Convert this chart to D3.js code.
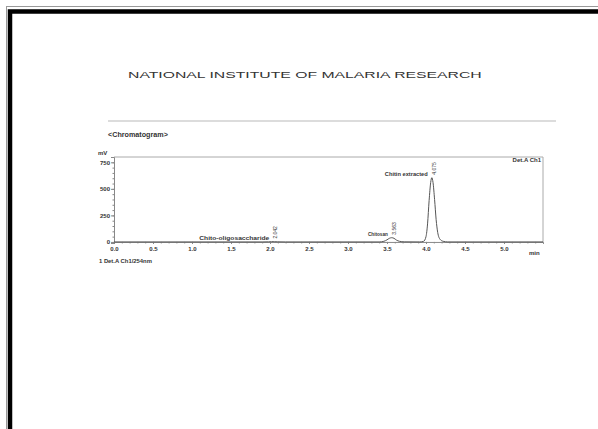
<!DOCTYPE html>
<html>
<head>
<meta charset="utf-8">
<script src="https://d3js.org/d3.v7.min.js"></script>
<style>
  body { margin: 0; background: #fff; }
  text { font-family: "Liberation Sans", Arial, sans-serif; fill: #333; }
</style>
</head>
<body>
<svg width="598" height="429"></svg>
<script>
// chromatogram trace (time in min, signal in mV)
const traceTime = [0, 1.90, 1.98, 2.02, 2.04, 2.06, 2.10, 2.20, 3.40, 3.46, 3.50, 3.53, 3.56, 3.59, 3.62, 3.66, 3.72, 3.92, 3.97, 4.00, 4.02, 4.04, 4.06, 4.075, 4.09, 4.11, 4.13, 4.15, 4.18, 4.22, 4.28, 5.5];
const traceMv   = [0, 0, 1, 2, 3, 2, 1, 0, 0, 6, 20, 34, 40, 34, 18, 6, 1, 0, 6, 50, 170, 390, 560, 605, 560, 400, 210, 90, 25, 6, 0, 0];

const peakNames = ["Chito-oligosaccharide", "Chitosan", "Chitin extracted"];
const peakTimes = [2.042, 3.563, 4.075];
const peakTops  = [3, 40, 605];

const xTicks = [0.0, 0.5, 1.0, 1.5, 2.0, 2.5, 3.0, 3.5, 4.0, 4.5, 5.0];
const yTicks = [0, 250, 500, 750];

const svg = d3.select("svg");

// squeeze / stretch a text to its printed width by scaling it horizontally
function fitText(g, x0, y0, w, str, size, bold, anchorEnd) {
  const t = g.append("text").style("font-size", size + "px")
    .style("font-weight", bold ? "bold" : "normal").text(str);
  const sx = w / t.node().getComputedTextLength();
  const left = anchorEnd ? x0 - w : x0;
  t.attr("transform", `translate(${left},${y0}) scale(${sx},1)`);
  return t;
}

// page frame
svg.append("rect").attr("x", 6.5).attr("y", 6.5).attr("width", 620).attr("height", 440)
  .attr("fill", "none").attr("stroke", "#999").attr("stroke-width", 1);
svg.append("rect").attr("x", 10).attr("y", 11.5).attr("width", 620).attr("height", 440)
  .attr("fill", "none").attr("stroke", "#000").attr("stroke-width", 4.5);

fitText(svg, 128, 78, 354, "NATIONAL INSTITUTE OF MALARIA RESEARCH", 8.5, false, false);

svg.append("line").attr("x1", 108).attr("x2", 556).attr("y1", 121).attr("y2", 121)
  .attr("stroke", "#d0d0d0").attr("stroke-width", 1.5);

fitText(svg, 108, 137, 60, "<Chromatogram>", 6.5, true, false);

const pLeft = 114, pRight = 543, pTop = 157, pBottom = 243;

const x = d3.scaleLinear().domain([0, 5.5]).range([pLeft, pRight]);
const y = d3.scaleLinear().domain([-10, 800]).range([pBottom, pTop]);

const plot = svg.append("g");

// frame of the plot
plot.append("path")
  .attr("d", `M${pLeft},${pTop}H${pRight}V${pBottom}`)
  .attr("fill", "none").attr("stroke", "#aaa").attr("stroke-width", 1);

// axes
const xAxis = plot.append("g").attr("transform", `translate(0,${y(0)})`)
  .call(d3.axisBottom(x).tickValues(xTicks).tickFormat(d3.format(".1f")).tickSize(2).tickPadding(3));
plot.append("g").attr("transform", `translate(0,${y(0)})`)
  .call(d3.axisBottom(x).tickValues(d3.range(0, 55).map(i => i / 10)).tickFormat("").tickSize(1.5))
  .select(".domain").remove();

const yAxis = plot.append("g").attr("transform", `translate(${pLeft},0)`)
  .call(d3.axisLeft(y).tickValues(yTicks).tickSize(3).tickPadding(1));
plot.append("g").attr("transform", `translate(${pLeft},0)`)
  .call(d3.axisLeft(y).tickValues(d3.range(0, 800, 50)).tickFormat("").tickSize(1.5))
  .select(".domain").remove();

plot.selectAll(".domain").attr("stroke", "#888");
plot.selectAll(".tick line").attr("stroke", "#888");
xAxis.selectAll("text").style("font-size", "6px").style("font-weight", "bold").attr("fill", "#444");
yAxis.selectAll("text").style("font-size", "6px").style("font-weight", "bold").attr("fill", "#444");

// trace
const line = d3.line().x(d => x(d[0])).y(d => y(d[1])).curve(d3.curveMonotoneX);
plot.append("path")
  .datum(traceTime.map((t, i) => [t, traceMv[i]]))
  .attr("fill", "none").attr("stroke", "#555").attr("stroke-width", 1)
  .attr("d", line);

// peak labels (name widths as printed)
const nameWidths = [70, 20, 43];
peakNames.forEach((name, i) => {
  const px = x(peakTimes[i]), py = y(peakTops[i]);
  fitText(plot, px - 4, py - 2, nameWidths[i], name, 5.5, true, true);
  plot.append("text")
    .attr("transform", `translate(${px + 4},${py - 3}) rotate(-90)`)
    .style("font-size", "5px")
    .text(peakTimes[i].toFixed(3));
});

svg.append("text").attr("x", 98).attr("y", 155)
  .style("font-size", "6px").style("font-weight", "bold").text("mV");
svg.append("text").attr("x", pRight - 2).attr("y", pTop + 5).attr("text-anchor", "end")
  .style("font-size", "6px").style("font-weight", "bold").text("Det.A Ch1");
svg.append("text").attr("x", 529).attr("y", 255)
  .style("font-size", "6px").style("font-weight", "bold").text("min");
fitText(svg, 99, 263, 53, "1 Det.A Ch1/254nm", 6, true, false);
</script>
</body>
</html>
